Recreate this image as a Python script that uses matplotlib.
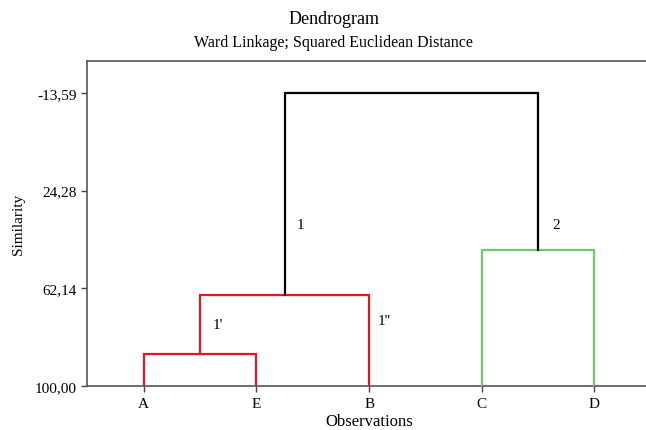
import matplotlib
matplotlib.use("Agg")
import matplotlib.pyplot as plt

# Leaves in plotted order
observations = ["A", "E", "B", "C", "D"]

# Merges: (left cluster, right cluster, similarity level)
merge_left = ["A", "AE", "C", "AEB"]
merge_right = ["E", "B", "D", "CD"]
merge_level = [87.6, 64.7, 47.2, -13.59]
merge_color = ["#e3191f", "#e3191f", "#6ccb6c", "black"]

y_ticks = [-13.59, 24.28, 62.14, 100.00]
branch_labels = ["1", "2", "1'", "1''"]
branch_label_x = [2.36, 4.63, 1.61, 3.08]
branch_label_y = [37.6, 37.6, 76.0, 74.8]

plt.rcParams["font.family"] = ["Liberation Serif", "DejaVu Serif"]


def main():
    fig = plt.figure(figsize=(6.46, 4.31), dpi=100)
    ax = fig.add_axes([0.1354, 0.1021, 0.872, 0.754])

    # position and height of every node
    pos = {name: i + 1 for i, name in enumerate(observations)}
    height = {name: 100.0 for name in observations}

    for left, right, level, color in zip(merge_left, merge_right, merge_level, merge_color):
        x1, x2 = pos[left], pos[right]
        ax.plot([x1, x1, x2, x2], [height[left], level, level, height[right]],
                color=color, lw=1.6, solid_joinstyle="miter", zorder=3)
        pos[left + right] = (x1 + x2) / 2
        height[left + right] = level

    # cluster names next to the branches
    for lab, x, y in zip(branch_labels, branch_label_x, branch_label_y):
        ax.text(x, y, lab, fontsize=11, ha="left", va="center")

    ax.set_xlim(0.5, 5.5)
    ax.set_ylim(100, -25.9)
    ax.set_xticks(range(1, len(observations) + 1))
    ax.set_xticklabels(observations, fontsize=11)
    ax.set_yticks(y_ticks)
    ax.set_yticklabels([f"{v:.2f}".replace(".", ",") for v in y_ticks], fontsize=11)
    ax.tick_params(direction="out", length=4, width=1, color="#444444")
    ax.tick_params(axis="x", pad=4)

    for side in ["top", "bottom", "left", "right"]:
        ax.spines[side].set_color("#555555")
        ax.spines[side].set_linewidth(1.2)

    ax.set_xlabel("Observations", fontsize=12, labelpad=2)
    ax.set_ylabel("Similarity", fontsize=11, labelpad=7)

    fig.text(0.517, 0.954, "Dendrogram", ha="center", va="center", fontsize=13)
    fig.text(0.516, 0.9, "Ward Linkage; Squared Euclidean Distance", ha="center",
             va="center", fontsize=11.5)

    fig.savefig("out.png", dpi=100)


if __name__ == "__main__":
    main()
